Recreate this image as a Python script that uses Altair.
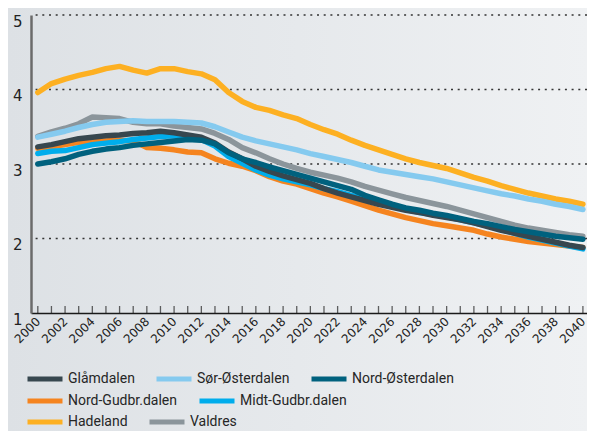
import altair as alt
import pandas as pd

years = list(range(2000, 2041))

glamdalen = [3.23, 3.26, 3.30, 3.34, 3.36, 3.38, 3.39, 3.41, 3.42, 3.44,
             3.42, 3.39, 3.36, 3.28, 3.16, 3.07, 2.97, 2.90, 2.84, 2.79,
             2.74, 2.67, 2.61, 2.56, 2.51, 2.46, 2.42, 2.38, 2.35, 2.31,
             2.28, 2.25, 2.21, 2.16, 2.11, 2.07, 2.03, 1.99, 1.95, 1.91, 1.88]
sor_osterdalen = [3.36, 3.40, 3.44, 3.49, 3.53, 3.56, 3.57, 3.58, 3.57, 3.57,
                  3.57, 3.56, 3.55, 3.50, 3.43, 3.36, 3.31, 3.27, 3.23, 3.19,
                  3.14, 3.10, 3.06, 3.02, 2.97, 2.92, 2.89, 2.86, 2.83, 2.80,
                  2.76, 2.72, 2.68, 2.64, 2.60, 2.57, 2.53, 2.50, 2.46, 2.43, 2.39]
nord_osterdalen = [3.00, 3.03, 3.07, 3.13, 3.17, 3.20, 3.22, 3.25, 3.27, 3.29,
                   3.31, 3.33, 3.32, 3.27, 3.15, 3.07, 3.02, 2.96, 2.91, 2.86,
                   2.81, 2.76, 2.71, 2.66, 2.58, 2.52, 2.46, 2.41, 2.38, 2.34,
                   2.31, 2.27, 2.23, 2.20, 2.16, 2.12, 2.09, 2.06, 2.03, 2.01, 1.99]
nord_gudbrandsdalen = [3.21, 3.23, 3.26, 3.29, 3.30, 3.31, 3.32, 3.31, 3.22, 3.21,
                       3.19, 3.16, 3.15, 3.07, 3.01, 2.97, 2.91, 2.83, 2.77, 2.73,
                       2.67, 2.61, 2.56, 2.50, 2.44, 2.38, 2.33, 2.28, 2.24, 2.20,
                       2.17, 2.14, 2.11, 2.06, 2.02, 1.99, 1.96, 1.94, 1.92, 1.90, 1.88]
midt_gudbrandsdalen = [3.14, 3.17, 3.18, 3.22, 3.26, 3.28, 3.30, 3.33, 3.35, 3.37,
                       3.38, 3.36, 3.33, 3.24, 3.10, 3.01, 2.92, 2.85, 2.80, 2.76,
                       2.72, 2.67, 2.63, 2.58, 2.53, 2.48, 2.43, 2.39, 2.35, 2.32,
                       2.29, 2.25, 2.21, 2.17, 2.12, 2.07, 2.02, 1.98, 1.94, 1.90, 1.86]
hadeland = [3.96, 4.08, 4.14, 4.19, 4.23, 4.28, 4.31, 4.26, 4.22, 4.28,
            4.28, 4.24, 4.21, 4.13, 3.96, 3.84, 3.76, 3.72, 3.66, 3.61,
            3.53, 3.46, 3.40, 3.32, 3.25, 3.19, 3.13, 3.07, 3.02, 2.98,
            2.94, 2.88, 2.82, 2.77, 2.71, 2.66, 2.61, 2.57, 2.53, 2.50, 2.46]
valdres = [3.37, 3.43, 3.48, 3.54, 3.63, 3.62, 3.61, 3.56, 3.54, 3.54,
           3.51, 3.49, 3.47, 3.41, 3.33, 3.22, 3.15, 3.07, 3.00, 2.94,
           2.89, 2.85, 2.81, 2.76, 2.70, 2.65, 2.60, 2.55, 2.51, 2.47,
           2.43, 2.38, 2.33, 2.28, 2.23, 2.18, 2.14, 2.11, 2.08, 2.05, 2.03]

series = {
    "Glåmdalen": glamdalen,
    "Sør-Østerdalen": sor_osterdalen,
    "Nord-Østerdalen": nord_osterdalen,
    "Nord-Gudbr.dalen": nord_gudbrandsdalen,
    "Midt-Gudbr.dalen": midt_gudbrandsdalen,
    "Hadeland": hadeland,
    "Valdres": valdres,
}
colors = {
    "Glåmdalen": "#37474f",
    "Sør-Østerdalen": "#85caef",
    "Nord-Østerdalen": "#00617e",
    "Nord-Gudbr.dalen": "#f5841f",
    "Midt-Gudbr.dalen": "#00adec",
    "Hadeland": "#fdb022",
    "Valdres": "#8b959b",
}
# legend rows (as in the reference)
row1 = ["Glåmdalen", "Sør-Østerdalen", "Nord-Østerdalen"]
row2 = ["Nord-Gudbr.dalen", "Midt-Gudbr.dalen"]
row3 = ["Hadeland", "Valdres"]

y_values = [1, 2, 3, 4, 5]
grid_values = [2, 3, 4, 5]
x_label_years = list(range(2000, 2041, 2))

rows = []
for name, vals in series.items():
    for yr, v in zip(years, vals):
        rows.append({"year": yr, "region": name, "value": v})
df = pd.DataFrame(rows)

x_scale = alt.Scale(domain=[1999.5, 2040.3], nice=False, zero=False)
y_scale = alt.Scale(domain=[1, 5], nice=False, zero=False)

x_axis = alt.Axis(values=x_label_years, format="d", labelAngle=-45, labelAlign="right",
                  labelBaseline="middle", labelPadding=6, labelFont="DejaVu Sans",
                  labelFontSize=12, labelColor="#222222", ticks=False, grid=False,
                  domainColor="#1a1a1a", domainWidth=1.5, title=None, zindex=1,
                  labelOverlap=False, labelFlush=False)
y_axis = alt.Axis(values=y_values, format="d", grid=False, ticks=False,
                  domainColor="#6b6b6b", domainWidth=2.5, labelFont="DejaVu Sans",
                  labelFontSize=15, labelColor="#222222", labelPadding=9, labelOffset=6,
                  labelBaseline="middle", title=None, zindex=1)

background = alt.Chart(pd.DataFrame({"bg": [0]})).mark_rect(
    color=alt.Gradient(
        gradient="linear",
        stops=[alt.GradientStop(offset=0, color="#dde1e5"),
               alt.GradientStop(offset=1, color="#eff1f3")],
        x1=0, x2=1, y1=0, y2=0,
    )
).encode(
    x=alt.value(-23), x2=alt.value(556), y=alt.value(-7), y2=alt.value(416)
)

grid = alt.Chart(pd.DataFrame({"g": grid_values})).mark_rule(
    color="#333333", strokeWidth=1.4, strokeDash=[2, 4.7]
).encode(
    y=alt.Y("g:Q", scale=y_scale, axis=y_axis)
)

ticks = alt.Chart(pd.DataFrame({"year": years})).mark_tick(
    orient="vertical", size=7, thickness=1.3, color="#222222", yOffset=-3.5
).encode(
    x=alt.X("year:Q", scale=x_scale, axis=x_axis),
    y=alt.YDatum(1),
)


def line_layer(names, lx, ly):
    sub = df[df["region"].isin(names)]
    return alt.Chart(sub).mark_line(strokeWidth=5.5, strokeCap="round", strokeJoin="round").encode(
        x=alt.X("year:Q", scale=x_scale, axis=x_axis),
        y=alt.Y("value:Q", scale=y_scale, axis=y_axis),
        color=alt.Color(
            "region:N",
            scale=alt.Scale(domain=names, range=[colors[n] for n in names]),
            legend=alt.Legend(
                orient="none", legendX=lx, legendY=ly, direction="horizontal",
                title=None, symbolType="stroke", symbolSize=1225, symbolStrokeWidth=5,
                labelFont="Roboto", labelFontSize=14, labelColor="#262626",
                labelOffset=3, columnPadding=11, padding=0, symbolOpacity=1,
            ),
        ),
    )


layer_c = line_layer(row3, -6, 387)
layer_b = line_layer(row2, -6, 366)
layer_a = line_layer(row1, -6, 344)

chart = alt.layer(background, grid, ticks, layer_c, layer_b, layer_a).resolve_scale(
    color="independent"
).properties(
    width=556, height=298,
    autosize=alt.AutoSizeParams(type="none"),
    padding={"left": 23, "top": 7, "right": 0, "bottom": 118},
    background="#e6e9ec",
).configure_view(strokeWidth=0)

chart.save("out.html", embed_options={"renderer": "svg", "actions": False})
